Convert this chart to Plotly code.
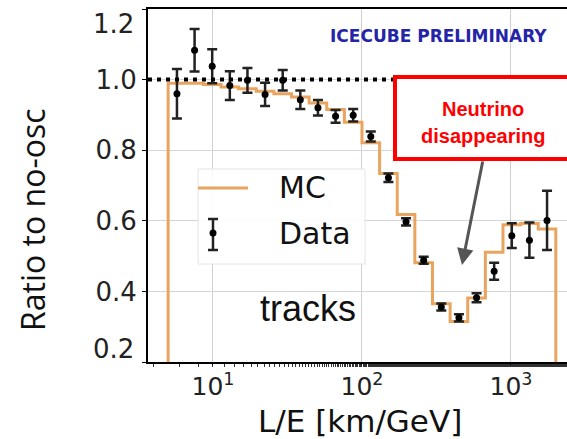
import numpy as np
import plotly.graph_objects as go

# L/E bin edges [km/GeV]
bin_edges = [5.0, 6.566, 8.621, 11.32, 14.86, 19.52, 25.63, 33.65, 44.19, 58.02,
             76.18, 100.0, 131.3, 172.4, 226.4, 297.3, 390.4, 512.6, 673.1,
             883.8, 1160.0, 1524.0, 2000.0]

# expected ratio (MC) per bin
mc_ratio = [0.990, 0.990, 0.986, 0.979, 0.974, 0.967, 0.960, 0.951, 0.934, 0.915,
            0.879, 0.821, 0.734, 0.618, 0.481, 0.365, 0.315, 0.381, 0.511, 0.589,
            0.592, 0.577]

# measured ratio and its uncertainty per bin
data_ratio = [0.960, 1.083, 1.038, 0.983, 0.998, 0.958, 0.998, 0.943, 0.920, 0.896,
              0.899, 0.839, 0.722, 0.597, 0.488, 0.356, 0.325, 0.382, 0.457, 0.558,
              0.545, 0.601]
data_err = [0.070, 0.060, 0.048, 0.041, 0.035, 0.033, 0.029, 0.026, 0.022, 0.018,
            0.018, 0.014, 0.012, 0.010, 0.010, 0.010, 0.010, 0.013, 0.024, 0.035,
            0.050, 0.084]

x_ticks = [10, 100, 1000]
x_tick_text = ["10<sup>1</sup>", "10<sup>2</sup>", "10<sup>3</sup>"]
y_ticks = [0.2, 0.4, 0.6, 0.8, 1.0, 1.2]

edges = np.array(bin_edges)
centers = np.sqrt(edges[:-1] * edges[1:])

ORANGE = "#e9a45f"
W, H = 567, 439
L_M, T_M, B_M = 148, 9, 77
PW, PH = W - L_M, H - T_M - B_M


def px(x):
    return (x - L_M) / PW


def py(y):
    return (H - B_M - y) / PH


fig = go.Figure()

# MC step histogram, closed down to zero at both outer edges
step_x = [bin_edges[0]] + bin_edges + [bin_edges[-1]]
step_y = [0.0] + mc_ratio + [mc_ratio[-1], 0.0]
fig.add_trace(go.Scatter(
    x=step_x, y=step_y, mode="lines", line=dict(color=ORANGE, width=3, shape="hv"),
    showlegend=False, hoverinfo="skip"))

fig.add_trace(go.Scatter(
    x=centers, y=data_ratio, mode="markers",
    marker=dict(color="black", size=7),
    error_y=dict(type="data", array=data_err, color="#222222", thickness=2.5, width=5),
    showlegend=False))

shapes = []
# no-oscillation reference at 1.0
shapes.append(dict(type="line", xref="paper", yref="y", x0=0, x1=1, y0=1.0, y1=1.0,
                   line=dict(color="black", width=4, dash="4px,5px"), layer="above"))
# highlight box
shapes.append(dict(type="rect", xref="paper", yref="paper", x0=px(395), x1=px(580),
                   y0=py(159), y1=py(77), line=dict(color="#ff0000", width=4),
                   fillcolor="rgba(255,255,255,1)", layer="above"))
# legend panel
shapes.append(dict(type="rect", xref="paper", yref="paper", x0=px(198), x1=px(365),
                   y0=py(264), y1=py(169), line=dict(color="#e4e4e4", width=1),
                   fillcolor="rgba(255,255,255,0.9)", layer="above"))
shapes.append(dict(type="line", xref="paper", yref="paper", x0=px(198), x1=px(248),
                   y0=py(188), y1=py(188), line=dict(color=ORANGE, width=3), layer="above"))
shapes.append(dict(type="line", xref="paper", yref="paper", x0=px(213), x1=px(213),
                   y0=py(250), y1=py(219), line=dict(color="#222222", width=2.5), layer="above"))
for yc in (219, 250):
    shapes.append(dict(type="line", xref="paper", yref="paper", x0=px(208), x1=px(218),
                       y0=py(yc), y1=py(yc), line=dict(color="#222222", width=2.5),
                       layer="above"))
shapes.append(dict(type="circle", xref="paper", yref="paper", x0=px(209.5), x1=px(216.5),
                   y0=py(236.5), y1=py(229.5), fillcolor="black",
                   line=dict(color="black", width=0), layer="above"))

annotations = [
    dict(text="<b>ICECUBE PRELIMINARY</b>", x=px(438), y=py(36), xref="paper", yref="paper",
         showarrow=False, font=dict(family="DejaVu Sans", size=17, color="#2424a8"),
         xanchor="center", yanchor="middle"),
    dict(text="<b>Neutrino</b>", x=px(483), y=py(109), xref="paper", yref="paper",
         showarrow=False, font=dict(family="Liberation Sans", size=20, color="#ff0000"),
         xanchor="center", yanchor="middle"),
    dict(text="<b>disappearing</b>", x=px(483), y=py(136), xref="paper", yref="paper",
         showarrow=False, font=dict(family="Liberation Sans", size=20, color="#ff0000"),
         xanchor="center", yanchor="middle"),
    dict(text="", x=px(462), y=py(265), xref="paper", yref="paper", showarrow=True,
         ax=21, ay=-105, arrowcolor="#555555", arrowwidth=3, arrowhead=2, arrowsize=1.1),
    dict(text="MC", x=px(277), y=py(188), xref="paper", yref="paper", showarrow=False,
         font=dict(family="DejaVu Sans", size=30, color="#111111"),
         xanchor="left", yanchor="middle"),
    dict(text="Data", x=px(277), y=py(233), xref="paper", yref="paper", showarrow=False,
         font=dict(family="DejaVu Sans", size=30, color="#111111"),
         xanchor="left", yanchor="middle"),
    dict(text="tracks", x=px(308), y=py(308), xref="paper", yref="paper", showarrow=False,
         font=dict(family="Liberation Sans", size=36, color="#111111"),
         xanchor="center", yanchor="middle"),
    dict(text="Ratio to no-osc", x=px(32), y=py(220), xref="paper", yref="paper",
         showarrow=False, textangle=-90,
         font=dict(family="Open Sans", size=32, color="#111111"),
         xanchor="center", yanchor="middle"),
    dict(text="L/E [km/GeV]", x=px(360), y=py(421), xref="paper", yref="paper",
         showarrow=False, font=dict(family="DejaVu Sans", size=31, color="#111111"),
         xanchor="center", yanchor="middle"),
]
# outermost y labels sit just inside the axis ends
for val, ypix in ((1.2, 24), (0.2, 349)):
    annotations.append(dict(text=f"{val:.1f}", x=px(136), y=py(ypix), xref="paper",
                            yref="paper", showarrow=False, xanchor="right",
                            yanchor="middle",
                            font=dict(family="DejaVu Sans", size=26, color="#222222")))

fig.update_layout(
    width=W, height=H,
    margin=dict(l=L_M, r=0, t=T_M, b=B_M),
    paper_bgcolor="white", plot_bgcolor="white",
    shapes=shapes, annotations=annotations,
    xaxis=dict(
        type="log", range=[0.5638, 3.376],
        showline=True, linecolor="black", linewidth=2, mirror=True,
        showgrid=True, gridcolor="#cfcfcf", gridwidth=1,
        tickvals=x_ticks, ticktext=x_tick_text,
        ticks="outside", ticklen=1, tickcolor="black",
        tickfont=dict(family="DejaVu Sans", size=25, color="#222222"),
        minor=dict(ticks="outside", ticklen=3, tickcolor="#333333", showgrid=False),
        zeroline=False,
    ),
    yaxis=dict(
        range=[0.2, 1.2],
        showline=True, linecolor="black", linewidth=2, mirror=False,
        showgrid=True, gridcolor="#d6d6d6", gridwidth=1,
        tickvals=y_ticks,
        ticktext=["" if v in (0.2, 1.2) else f"{v:.1f}" for v in y_ticks],
        ticks="outside", ticklen=4, tickcolor="black",
        tickfont=dict(family="DejaVu Sans", size=26, color="#222222"),
        zeroline=False,
    ),
)

fig.write_html("out.html")
